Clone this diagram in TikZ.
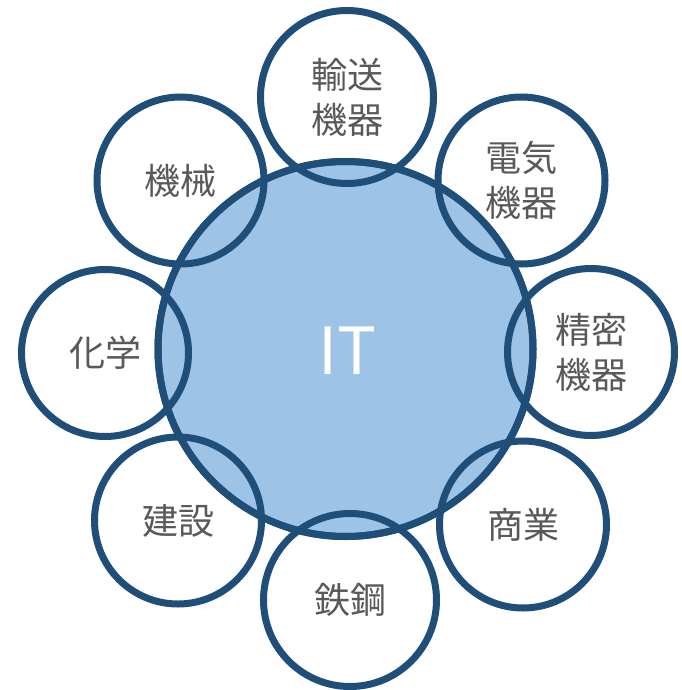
\documentclass[tikz,border=0pt]{standalone}
\usepackage{fontspec}
\newfontfamily\jp{Noto Sans CJK JP}
\definecolor{ringblue}{HTML}{1F4E79}
\definecolor{hubfill}{HTML}{9DC3E6}
\definecolor{txtgray}{HTML}{595959}
\begin{document}
\begin{tikzpicture}[x=1pt,y=-1pt,
  ring/.style={circle,fill=white,inner sep=0pt,minimum size=#1},
  edge/.style={draw=ringblue,line width=7pt},
  hub/.style={circle,fill=hubfill,draw=ringblue,line width=7pt,inner sep=0pt,minimum size=375pt},
  lbl/.style={font=\jp\fontsize{36}{45}\selectfont,text=txtgray,align=center,inner sep=0pt}]
\useasboundingbox (0,0) rectangle (681,690);
% outer circle fills
\node[ring=173pt] (yuso)   at (347,97)  {};
\node[ring=167pt] (denki)  at (521.5,180.5) {};
\node[ring=167pt] (seimitsu) at (591,352) {};
\node[ring=167pt] (shogyo) at (523,524.5) {};
\node[ring=173pt] (tekko)  at (350,600) {};
\node[ring=167pt] (kensetsu) at (178,520.5) {};
\node[ring=167pt] (kagaku) at (105,353) {};
\node[ring=167pt] (kikai)  at (180.5,180.5) {};
% central circle
\node[hub] (it) at (345.5,349) {};
% outer borders on top
\foreach \n/\r in {yuso/86.5,tekko/86.5,denki/83.5,seimitsu/83.5,shogyo/83.5,kensetsu/83.5,kagaku/83.5,kikai/83.5}
  \draw[edge] (\n.center) circle[radius=\r];
% central border on top again
\draw[edge] (it.center) circle[radius=187.5];
% labels
\node[lbl] (tyuso) at (yuso.center) {輸送\\機器};
\node[lbl] (tdenki) at (denki.center) {電気\\機器};
\node[lbl] (tseimitsu) at (seimitsu.center) {精密\\機器};
\node[lbl] (tshogyo) at (shogyo.center) {商業};
\node[lbl] (ttekko) at (tekko.center) {鉄鋼};
\node[lbl] (tkensetsu) at (kensetsu.center) {建設};
\node[lbl] (tkagaku) at (kagaku.center) {化学};
\node[lbl] (tkikai) at (kikai.center) {機械};
\node[font=\jp\fontsize{65}{70}\selectfont,text=white,inner sep=0pt] (tit) at (347,351) {IT};
\end{tikzpicture}
\end{document}
